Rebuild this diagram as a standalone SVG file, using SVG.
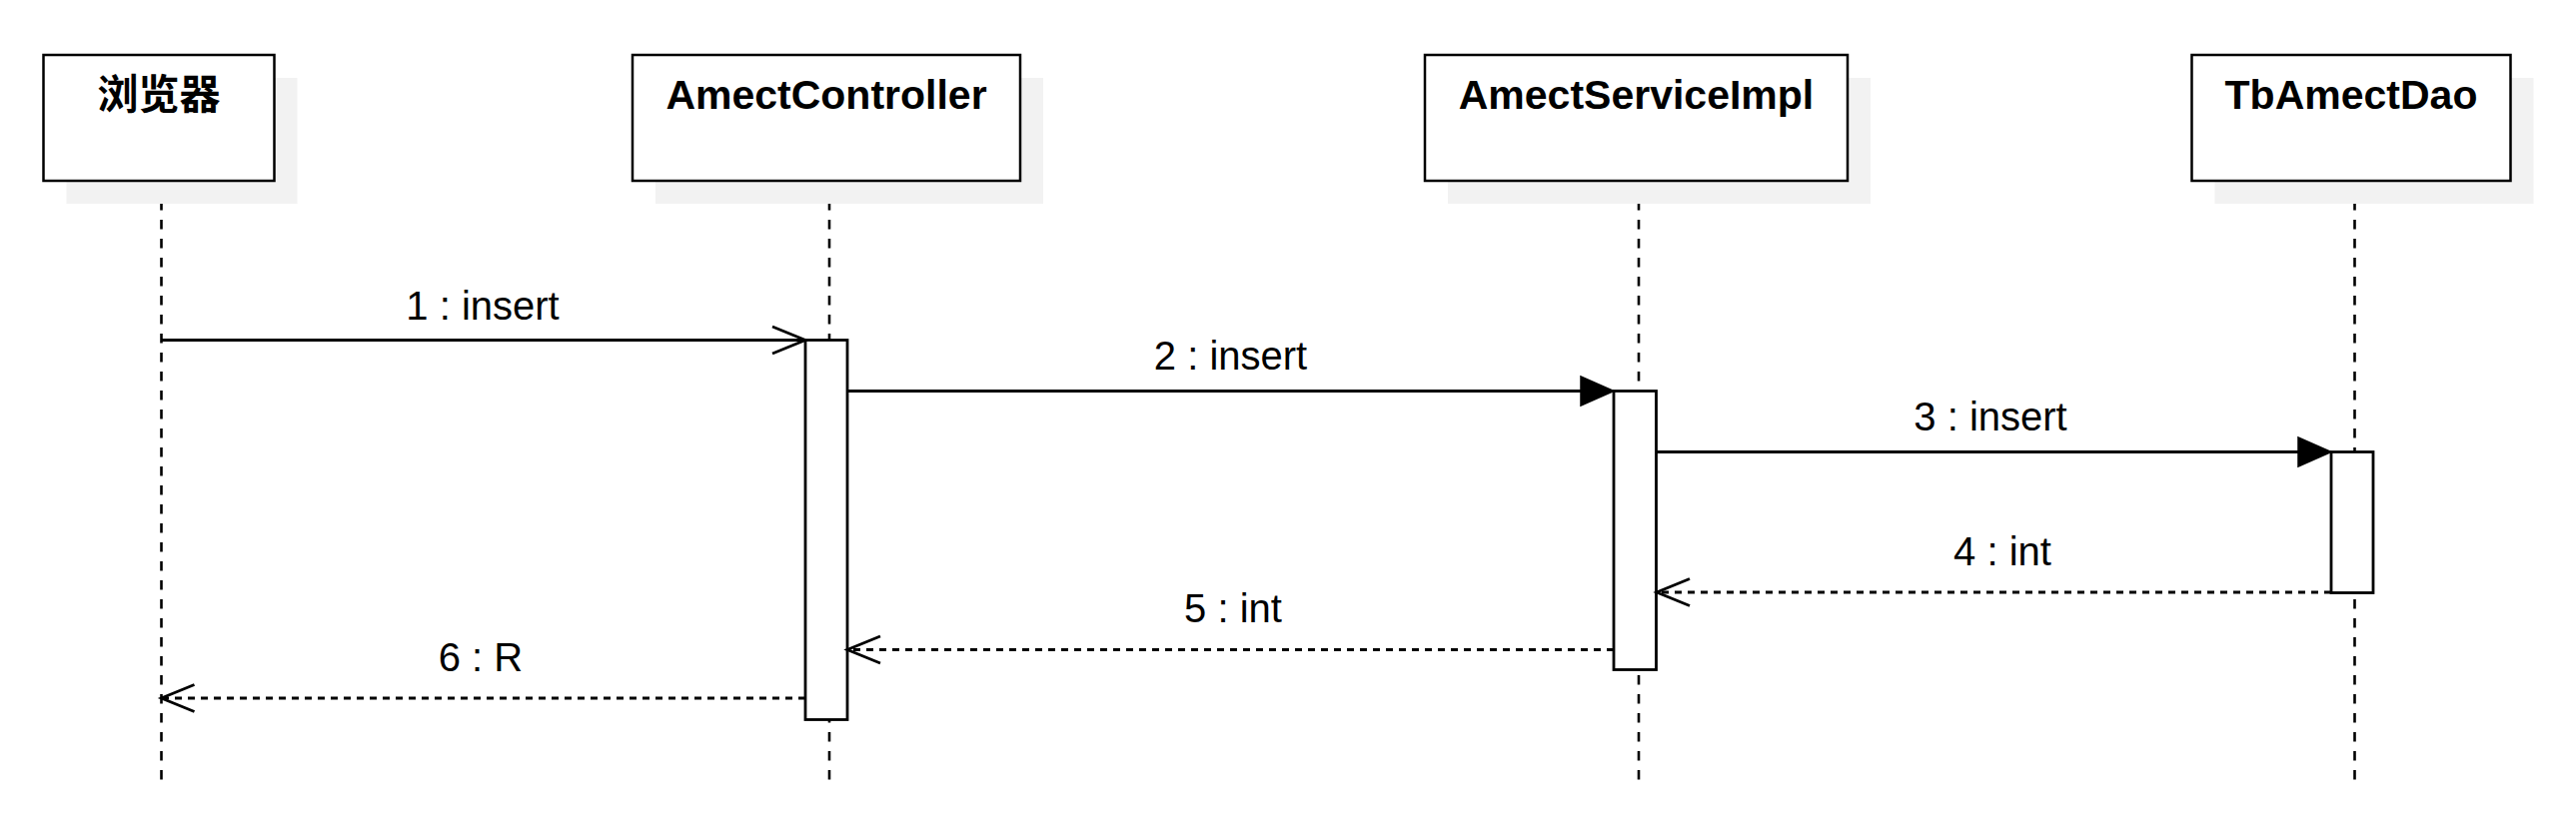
<svg xmlns="http://www.w3.org/2000/svg" width="2578" height="827" viewBox="0 0 2578 827">
<style>
.shadow{fill:#f2f2f2;stroke:none}
.box{fill:#ffffff;stroke:#000000;stroke-width:2.5}
.title{font-family:"Liberation Sans","Noto Sans CJK SC",sans-serif;font-weight:bold;font-size:41px;text-anchor:middle;fill:#000}
.life{stroke:#000;stroke-width:2.6;stroke-dasharray:9.5 9.5;fill:none}
.act{fill:#ffffff;stroke:#000;stroke-width:2.8}
.msg{stroke:#000;stroke-width:2.8;fill:none}
.ret{stroke:#000;stroke-width:2.8;fill:none;stroke-dasharray:7 6}
.lbl{font-family:"Liberation Sans",sans-serif;font-size:40px;text-anchor:middle;fill:#000}
</style>
<defs>
<marker id="openHead" markerUnits="userSpaceOnUse" viewBox="-40 -20 44 40" markerWidth="44" markerHeight="40" refX="0" refY="0" orient="auto" overflow="visible">
<path d="M-33,-13.5 L0,0 L-33,13.5" fill="none" stroke="#000" stroke-width="2.8"/>
</marker>
<marker id="blockHead" markerUnits="userSpaceOnUse" viewBox="-10 -20 44 40" markerWidth="44" markerHeight="40" refX="0" refY="0" orient="auto" overflow="visible">
<path d="M-3,-14.5 L30,0 L-3,14.5 Z" fill="#000" stroke="#000" stroke-width="1.5"/>
</marker>
</defs>
<rect width="2578" height="827" fill="#ffffff"/>
<g id="lifelines">
<line class="life" x1="161.5" y1="182" x2="161.5" y2="788"/>
<line class="life" x1="830" y1="182" x2="830" y2="788"/>
<line class="life" x1="1640" y1="182" x2="1640" y2="788"/>
<line class="life" x1="2356.5" y1="182" x2="2356.5" y2="788"/>
</g>
<g id="browser">
<rect class="shadow" x="66.5" y="78" width="231" height="126"/>
<rect class="box" x="43.5" y="55" width="231" height="126"/>
<text class="title" x="159" y="109">浏览器</text>
</g>
<g id="amectController">
<rect class="shadow" x="656" y="78" width="388" height="126"/>
<rect class="box" x="633" y="55" width="388" height="126"/>
<text class="title" x="827" y="109">AmectController</text>
</g>
<g id="amectServiceImpl">
<rect class="shadow" x="1449" y="78" width="423" height="126"/>
<rect class="box" x="1426" y="55" width="423" height="126"/>
<text class="title" x="1637.5" y="109">AmectServiceImpl</text>
</g>
<g id="tbAmectDao">
<rect class="shadow" x="2216.5" y="78" width="319" height="126"/>
<rect class="box" x="2193.5" y="55" width="319" height="126"/>
<text class="title" x="2353" y="109">TbAmectDao</text>
</g>
<g id="activation-controller">
<rect class="act" x="806" y="340.5" width="42" height="380"/>
</g>
<g id="activation-service">
<rect class="act" x="1615" y="391.5" width="42.5" height="279"/>
</g>
<g id="activation-dao">
<rect class="act" x="2333" y="452.5" width="42" height="141"/>
</g>
<g id="connectors">
<path class="msg" d="M161.5,340.5 H806" marker-end="url(#openHead)"/>
<path class="msg" d="M848,391.5 H1585" marker-end="url(#blockHead)"/>
<path class="msg" d="M1657.5,452.5 H2303" marker-end="url(#blockHead)"/>
<path class="ret" d="M2333,593 H1658" marker-end="url(#openHead)"/>
<path class="ret" d="M1615,650.5 H848" marker-end="url(#openHead)"/>
<path class="ret" d="M806,699 H161.5" marker-end="url(#openHead)"/>
<text class="lbl" x="483" y="320">1 : insert</text>
<text class="lbl" x="1231.5" y="370">2 : insert</text>
<text class="lbl" x="1992" y="431">3 : insert</text>
<text class="lbl" x="2004" y="566">4 : int</text>
<text class="lbl" x="1234" y="623">5 : int</text>
<text class="lbl" x="481" y="672">6 : R</text>
</g>
</svg>
